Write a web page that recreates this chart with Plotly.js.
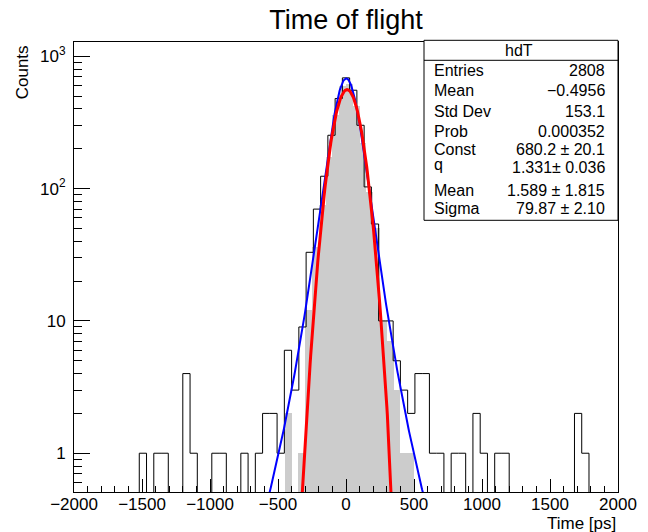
<!DOCTYPE html>
<html>
<head>
<meta charset="utf-8">
<script src="https://cdn.plot.ly/plotly-3.0.1.min.js"></script>
<style>html,body{margin:0;padding:0;background:#fff;}#plot{width:648px;height:532px;}</style>
</head>
<body>
<div id="plot"></div>
<script>
// ---- data ----
// black outline histogram: 75 bins from -2000 to 2000 ps
const blackRange = [-2000, 2000];
const blackCounts = [
  0,0,0,0,0,0,0,0,0,1,
  0,1,1,0,0,4,1,0,0,1,
  1,0,0,1,0,1,2,2,1,6,
  3,9,33,70,124,253,480,687,554,301,
  103,54,10,10,5,3,2,4,4,1,
  1,0,1,1,0,2,1,0,1,1,
  0,0,0,0,0,0,0,0,0,2,
  1,0,0,0,0
];
// gray filled histogram: 80 bins from -2000 to 2000 ps
const grayRange = [-2000, 2000];
const grayCounts = [
  0,0,0,0,0,0,0,0,0,0,
  0,0,0,0,0,0,0,0,0,0,
  0,0,0,0,0,0,0,0,0,0,
  0,2,0,1,12,36,75,172,360,600,
  620,420,220,95,50,10,7,3,1,1,
  0,0,0,0,0,0,0,0,0,0,
  0,0,0,0,0,0,0,0,0,0,
  0,0,0,0,0,0,0,0,0,0
];
// fit parameters
const qGaussPars = {Const: 680.2, q: 1.331, Mean: 1.589, Sigma: 79.87};
const gausPars = {Const: 560, Mean: 8, Sigma: 88};
// axis ticks
const yTickVals = [1, 10, 100, 1000];
const yTickText = ['1', '10', '10<sup>2</sup>', '10<sup>3</sup>'];
// stats box
const statsTitle = 'hdT';
const statsLabels = ['Entries', 'Mean', 'Std Dev', 'Prob', 'Const', 'q', 'Mean', 'Sigma'];
const statsValues = ['2808', '\u22120.4956', '153.1', '0.000352', '680.2 \u00b1 20.1', '1.331\u00b1 0.036', '1.589 \u00b1 1.815', '79.87 \u00b1 2.10'];

// ---- build traces ----
const FONT = 'Liberation Sans, Arial, Helvetica, sans-serif';
const FLOOR = 1e-3;

function stepTrace(counts, range) {
  const n = counts.length, w = (range[1] - range[0]) / n;
  const xs = [], ys = [];
  for (let k = 0; k < n; k++) {
    xs.push(range[0] + k * w);
    ys.push(counts[k] > 0 ? counts[k] : FLOOR);
  }
  xs.push(range[1]); ys.push(FLOOR);
  return {x: xs, y: ys, type: 'scatter', mode: 'lines', line: {shape: 'hv', color: '#000', width: 1}, hoverinfo: 'skip'};
}
function barTrace(counts, range) {
  const n = counts.length, w = (range[1] - range[0]) / n;
  const xs = [], ys = [];
  for (let k = 0; k < n; k++) { xs.push(range[0] + (k + 0.5) * w); ys.push(counts[k] > 0 ? counts[k] : null); }
  return {x: xs, y: ys, width: w, type: 'bar', marker: {color: '#cccccc', line: {width: 0}}, hoverinfo: 'skip'};
}
function qGauss(x, p) {
  const u = (x - p.Mean) * (x - p.Mean) / ((3 - p.q) * p.Sigma * p.Sigma);
  return p.Const * Math.pow(1 + (p.q - 1) * u, -1 / (p.q - 1));
}
function gaus(x, p) {
  const d = (x - p.Mean) / p.Sigma;
  return p.Const * Math.exp(-0.5 * d * d);
}
const fx = [];
for (let x = -2000; x <= 2000; x += 4) fx.push(x);
const rx = fx.filter(x => Math.abs(x) <= 600);

const traces = [
  barTrace(grayCounts, grayRange),
  stepTrace(blackCounts, blackRange),
  {x: fx, y: fx.map(x => qGauss(x, qGaussPars)), type: 'scatter', mode: 'lines', line: {color: '#0000ff', width: 2}, hoverinfo: 'skip'},
  {x: rx, y: rx.map(x => gaus(x, gausPars)), type: 'scatter', mode: 'lines', line: {color: '#ff0000', width: 3}, hoverinfo: 'skip'}
];

// ---- layout ----
const L = 74, R = 618, T = 41.7, B = 491.7;
const px2x = p => (p - L) / (R - L);
const py2y = p => (B - p) / (B - T);

const annotations = [];
annotations.push({text: 'Counts', textangle: -90, xref: 'paper', yref: 'paper', x: px2x(22), y: py2y(72), xanchor: 'center', yanchor: 'middle', showarrow: false, font: {family: FONT, size: 17, color: '#000'}});
annotations.push({text: 'Time [ps]', xref: 'paper', yref: 'paper', x: px2x(618), y: py2y(523), xanchor: 'right', yanchor: 'middle', showarrow: false, font: {family: FONT, size: 17, color: '#000'}});
annotations.push({text: statsTitle, xref: 'paper', yref: 'paper', x: px2x(519), y: py2y(50), xanchor: 'center', yanchor: 'middle', showarrow: false, font: {family: FONT, size: 16, color: '#000'}});
const rowY = [70, 90, 111, 130.7, 149.3, 164, 190, 207.7];
const valY = [70, 90, 111, 130.7, 149.3, 167, 190, 207.7];
statsLabels.forEach((s, i) => annotations.push({text: s, xref: 'paper', yref: 'paper', x: px2x(432), y: py2y(rowY[i]), xanchor: 'left', yanchor: 'middle', showarrow: false, font: {family: FONT, size: 16, color: '#000'}}));
statsValues.forEach((s, i) => annotations.push({text: s, xref: 'paper', yref: 'paper', x: px2x(607), y: py2y(valY[i]), xanchor: 'right', yanchor: 'middle', showarrow: false, font: {family: FONT, size: 16, color: '#000'}}));

const shapes = [
  {type: 'rect', xref: 'paper', yref: 'paper', x0: px2x(424), x1: px2x(618), y0: py2y(220), y1: py2y(40), line: {color: '#000', width: 1}, fillcolor: '#fff', layer: 'above'},
  {type: 'line', xref: 'paper', yref: 'paper', x0: px2x(424), x1: px2x(618), y0: py2y(60), y1: py2y(60), line: {color: '#000', width: 1}, layer: 'above'}
];

const yMinor = [];
[0.1, 1, 10, 100].forEach(d => { for (let m = 2; m <= 9; m++) yMinor.push(m * d); });

const layout = {
  width: 648, height: 532,
  margin: {l: L, r: 648 - R, t: T, b: 532 - B, pad: 0},
  paper_bgcolor: '#fff', plot_bgcolor: '#fff',
  showlegend: false,
  bargap: 0,
  title: {text: 'Time of flight', font: {family: FONT, size: 27, color: '#000'}, x: 0.5, xref: 'paper', y: 1 - 20 / 532, yanchor: 'middle'},
  xaxis: {
    range: [-2000, 2000], dtick: 500, tick0: 0,
    ticks: 'inside', ticklen: 13, tickwidth: 1, tickcolor: '#000',
    minor: {dtick: 100, tick0: 0, ticks: 'inside', ticklen: 6.5, tickwidth: 1, tickcolor: '#000'},
    showline: true, linecolor: '#000', linewidth: 1, mirror: true,
    showgrid: false, zeroline: false,
    tickfont: {family: FONT, size: 17, color: '#000'},
    ticklabelstandoff: -3
  },
  yaxis: {
    type: 'log', range: [-0.293, 3.108],
    tickmode: 'array', tickvals: yTickVals, ticktext: yTickText,
    ticks: 'inside', ticklen: 16, tickwidth: 1, tickcolor: '#000',
    minor: {tickmode: 'array', tickvals: yMinor, ticks: 'inside', ticklen: 8, tickwidth: 1, tickcolor: '#000'},
    showline: true, linecolor: '#000', linewidth: 1, mirror: true,
    showgrid: false, zeroline: false,
    tickfont: {family: FONT, size: 17, color: '#000'},
    ticklabelstandoff: 4
  },
  annotations: annotations,
  shapes: shapes
};

Plotly.newPlot('plot', traces, layout, {staticPlot: true, displayModeBar: false});
</script>
</body>
</html>
